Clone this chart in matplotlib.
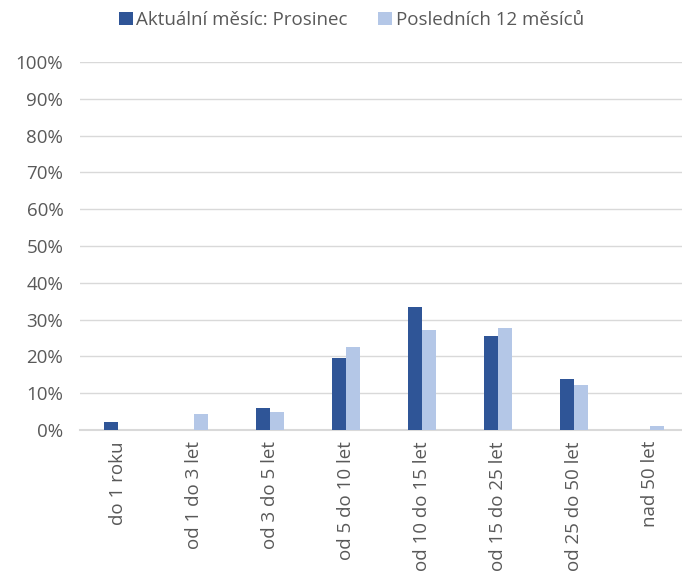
import matplotlib
matplotlib.use("Agg")
import matplotlib.pyplot as plt
import numpy as np
from matplotlib.ticker import PercentFormatter

categories = ["do 1 roku", "od 1 do 3 let", "od 3 do 5 let", "od 5 do 10 let",
              "od 10 do 15 let", "od 15 do 25 let", "od 25 do 50 let", "nad 50 let"]
current = [2.1, 0.0, 5.9, 19.5, 33.4, 25.4, 13.9, 0.0]
last12 = [0.0, 4.2, 4.8, 22.6, 27.1, 27.8, 12.1, 1.0]
series_names = ["Aktuální měsíc: Prosinec", "Posledních 12 měsíců"]
yticks = list(range(0, 101, 10))

plt.rcParams['font.family'] = ['Open Sans', 'DejaVu Sans']
fig = plt.figure(figsize=(6.82, 5.74), dpi=100)
ax = fig.add_axes([80/682, 0.251, 608/682, 0.641])

x = np.arange(len(categories))
bw = 0.184
ax.bar(x - bw/2, current, bw, color="#2F5597", label=series_names[0], zorder=3)
ax.bar(x + bw/2, last12, bw, color="#B4C7E7", label=series_names[1], zorder=3)

ax.set_xlim(-0.5, len(categories) - 0.5)
ax.set_ylim(0, 100)
ax.set_yticks(yticks)
ax.yaxis.set_major_formatter(PercentFormatter(decimals=0))
ax.set_xticks(x)
ax.set_xticklabels(categories, rotation=90)
ax.tick_params(axis='both', length=0, labelsize=13.5, colors="#595959", pad=8)
ax.tick_params(axis='y', pad=12)
ax.grid(axis='y', color="#D9D9D9", linewidth=1, zorder=0)
for s in ["top", "right", "left"]:
    ax.spines[s].set_visible(False)
ax.spines["bottom"].set_color("#D9D9D9")
ax.spines["bottom"].set_linewidth(1.5)

fig.legend(loc="upper center", bbox_to_anchor=(0.515, 1.01), ncol=2, frameon=False,
           fontsize=13.5, labelcolor="#595959", handlelength=0.75, handleheight=0.75,
           handletextpad=0.2, columnspacing=1.6)

fig.savefig("out.png", dpi=100)
